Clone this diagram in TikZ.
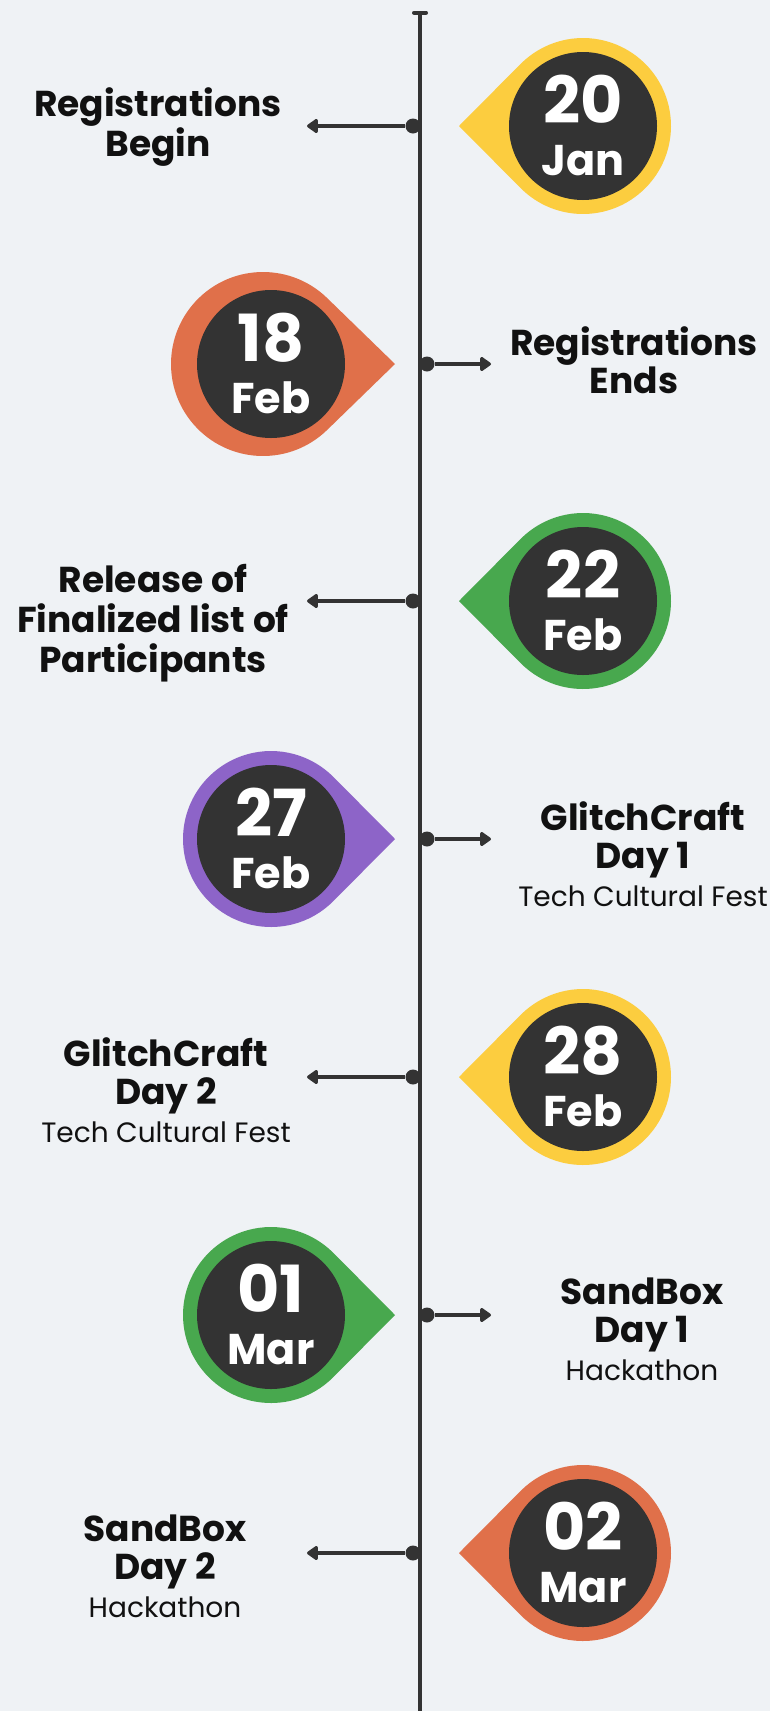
\documentclass[tikz,border=0pt]{standalone}
\usepackage{fontspec}
\setmainfont{Poppins}
\usetikzlibrary{arrows.meta,calc}
\definecolor{bgc}{HTML}{EFF2F5}
\definecolor{darkc}{HTML}{333333}
\definecolor{labc}{HTML}{111111}
\definecolor{yellowc}{HTML}{FCCD3F}
\definecolor{orangec}{HTML}{E0704A}
\definecolor{greenc}{HTML}{48A84E}
\definecolor{purplec}{HTML}{8D64C8}
\tikzset{
  tline/.style={line width=4.6pt, draw=darkc},
  capline/.style={line width=4pt, draw=darkc, line cap=round},
  dotn/.style={circle, fill=darkc, inner sep=0pt, minimum size=15pt},
  conn/.style={line width=4pt, draw=darkc, -{Triangle[length=12pt,width=16pt,round]}},
  numtxt/.style={anchor=base, inner sep=0pt, text=white, font=\fontsize{65}{65}\selectfont\bfseries},
  montxt/.style={anchor=base, inner sep=0pt, text=white, font=\fontsize{43}{43}\selectfont\bfseries},
  lbl/.style={anchor=base, inner sep=0pt, text=labc, font=\fontsize{36}{38}\selectfont\bfseries},
}
\newcommand{\subt}[1]{{\fontsize{28}{38}\selectfont\mdseries #1}}
% right pin: #1 name, #2 y, #3 colour, #4 number, #5 month
\newcommand{\pinR}[5]{%
  \fill[#3] (459,#2) -- ($(583,#2)+(135.2:88)$) arc[start angle=135.2,end angle=-135.2,radius=88] -- cycle;
  \fill[darkc] (583,#2) circle[radius=74];
  \node[numtxt] (#1n) at (583,#2-3) {#4};
  \node[montxt] (#1m) at (583,#2+49) {#5};
}
% left pin: #1 name, #2 y, #3 colour, #4 number, #5 month
\newcommand{\pinL}[5]{%
  \fill[#3] (395,#2) -- ($(271,#2)+(44.8:88)$) arc[start angle=44.8,end angle=315.2,radius=88] -- cycle;
  \fill[darkc] (271,#2) circle[radius=74];
  \node[numtxt] (#1n) at (271,#2-3) {#4};
  \node[montxt] (#1m) at (271,#2+49) {#5};
}
\begin{document}
\begin{tikzpicture}[x=1pt,y=-1pt]
\useasboundingbox (0,0) rectangle (770,1711);
\fill[bgc] (0,0) rectangle (770,1711);
% main timeline
\coordinate (top) at (420,12.7);
\coordinate (bot) at (420,1711);
\coordinate (capL) at (414,12.7);
\coordinate (capR) at (426,12.7);
\draw[tline] (top) -- (bot);
\draw[capline] (capL) -- (capR);
% dots and arrow ends
\node[dotn] (d1) at (413,126) {};
\node[dotn] (d2) at (427,364) {};
\node[dotn] (d3) at (413,601) {};
\node[dotn] (d4) at (427,839) {};
\node[dotn] (d5) at (413,1077) {};
\node[dotn] (d6) at (427,1315) {};
\node[dotn] (d7) at (413,1553) {};
\coordinate (a1) at (307,126);
\coordinate (a2) at (491,364);
\coordinate (a3) at (307,601);
\coordinate (a4) at (491,839);
\coordinate (a5) at (307,1077);
\coordinate (a6) at (491,1315);
\coordinate (a7) at (307,1553);
\foreach \i in {1,...,7}{\draw[conn] (d\i) -- (a\i);}
% pins
\pinR{p1}{126}{yellowc}{20}{Jan}
% pin 2 (slightly larger outer ring)
\fill[orangec] (395,364) -- ($(263,364)+(45.8:92)$) arc[start angle=45.8,end angle=314.2,radius=92] -- cycle;
\fill[darkc] (271,364) circle[radius=74];
\node[numtxt] (p2n) at (271,361) {18};
\node[montxt] (p2m) at (271,413) {Feb};
\pinR{p3}{601}{greenc}{22}{Feb}
\pinL{p4}{839}{purplec}{27}{Feb}
\pinR{p5}{1077}{yellowc}{28}{Feb}
\pinL{p6}{1315}{greenc}{01}{Mar}
\pinR{p7}{1553}{orangec}{02}{Mar}
% labels
\node[lbl] (l1) at (158,116) {\begin{tabular}[t]{@{}c@{}}Registrations\\Begin\end{tabular}};
\node[lbl] (l2) at (634,355) {\begin{tabular}[t]{@{}c@{}}Registrations\\Ends\end{tabular}};
\node[lbl] (l3) at (153,592) {\begin{tabular}[t]{@{}c@{}}Release of\\Finalized list of\\Participants\end{tabular}};
\node[lbl] (l4) at (643,830) {\begin{tabular}[t]{@{}c@{}}GlitchCraft\\Day 1\\\subt{Tech Cultural Fest}\end{tabular}};
\node[lbl] (l5) at (166,1066) {\begin{tabular}[t]{@{}c@{}}GlitchCraft\\Day 2\\\subt{Tech Cultural Fest}\end{tabular}};
\node[lbl] (l6) at (642,1304) {\begin{tabular}[t]{@{}c@{}}SandBox\\Day 1\\\subt{Hackathon}\end{tabular}};
\node[lbl] (l7) at (165,1541) {\begin{tabular}[t]{@{}c@{}}SandBox\\Day 2\\\subt{Hackathon}\end{tabular}};
\end{tikzpicture}
\end{document}
